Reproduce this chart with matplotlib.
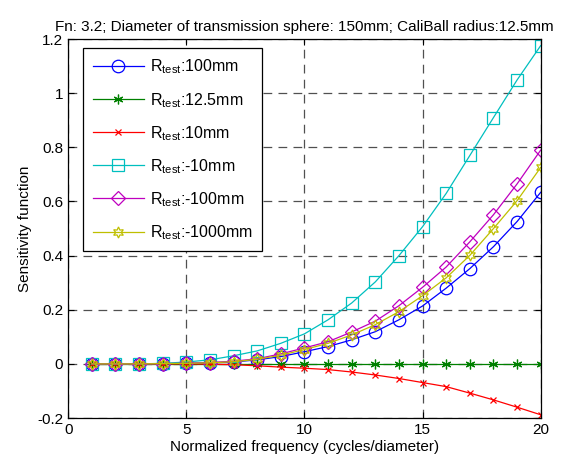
import matplotlib
matplotlib.use("Agg")
import matplotlib.pyplot as plt
import numpy as np

plt.rcParams['font.family'] = ['Liberation Sans', 'DejaVu Sans']
plt.rcParams['mathtext.fontset'] = 'custom'
plt.rcParams['mathtext.rm'] = 'Liberation Sans'

freq = list(range(1, 21))
r100 = [0, 0, 0, 0.001, 0.002, 0.004, 0.007, 0.015, 0.027, 0.045, 0.064, 0.089, 0.119, 0.163, 0.214, 0.280, 0.352, 0.433, 0.526, 0.634]
r12_5 = [0.0] * 20
r10 = [0, 0, 0, 0, 0, -0.001, -0.003, -0.007, -0.012, -0.016, -0.021, -0.030, -0.041, -0.054, -0.069, -0.084, -0.108, -0.133, -0.160, -0.188]
rm10 = [0, 0, 0, 0.002, 0.007, 0.015, 0.030, 0.048, 0.076, 0.111, 0.163, 0.225, 0.303, 0.400, 0.507, 0.630, 0.770, 0.910, 1.049, 1.176]
rm100 = [0, 0, 0, 0.001, 0.002, 0.005, 0.010, 0.019, 0.037, 0.059, 0.082, 0.118, 0.158, 0.215, 0.283, 0.358, 0.451, 0.551, 0.665, 0.790]
rm1000 = [0, 0, 0, 0.001, 0.002, 0.004, 0.008, 0.017, 0.032, 0.053, 0.076, 0.107, 0.145, 0.193, 0.252, 0.318, 0.401, 0.500, 0.603, 0.726]

labels = ['100mm', '12.5mm', '10mm', '-10mm', '-100mm', '-1000mm']
series = [r100, r12_5, r10, rm10, rm100, rm1000]
colors = ['#0000ff', '#008000', '#ff0000', '#00bfbf', '#bf00bf', '#bfbf00']
markers = ['o', (6, 2, 0), 'x', 's', 'D', (6, 1, 0)]
msizes = [9, 7, 4, 9, 7.5, 8]

fig = plt.figure(figsize=(5.68, 4.65), dpi=100)
ax = fig.add_axes([0.120, 0.101, 0.832, 0.815])

for y, lab, c, m, ms in zip(series, labels, colors, markers, msizes):
    ax.plot(freq, y, color=c, marker=m, markersize=ms, markerfacecolor='none',
            markeredgecolor=c, linewidth=0.9, markeredgewidth=0.9,
            label=r'R$_{\mathrm{test}}$:' + lab)

ax.set_xlim(0, 20)
ax.set_ylim(-0.2, 1.2)
ax.set_xticks([0, 5, 10, 15, 20])
ax.set_yticks([-0.2, 0, 0.2, 0.4, 0.6, 0.8, 1.0, 1.2])
ax.set_yticklabels(['-0.2', '0', '0.2', '0.4', '0.6', '0.8', '1', '1.2'])
ax.grid(True, linestyle=(0, (7, 5)), color='#505050', linewidth=0.9)
ax.tick_params(direction='in', labelsize=11, top=True, right=True, length=4)
for s in ax.spines.values():
    s.set_linewidth(0.9)

ax.set_xlabel('Normalized frequency (cycles/diameter)', fontsize=11, labelpad=2)
ax.set_ylabel('Sensitivity function', fontsize=11, labelpad=4)
ax.set_title('Fn: 3.2; Diameter of transmission sphere: 150mm; CaliBall radius:12.5mm',
             fontsize=11, pad=6)

leg = ax.legend(loc='upper left', bbox_to_anchor=(0.032, 0.976), fontsize=11.5,
                fancybox=False, edgecolor='black', framealpha=1, borderaxespad=0,
                handlelength=3.2, handletextpad=0.35, borderpad=0.6, labelspacing=0.9)
leg.get_frame().set_linewidth(0.9)

fig.savefig('out.png', dpi=100)
